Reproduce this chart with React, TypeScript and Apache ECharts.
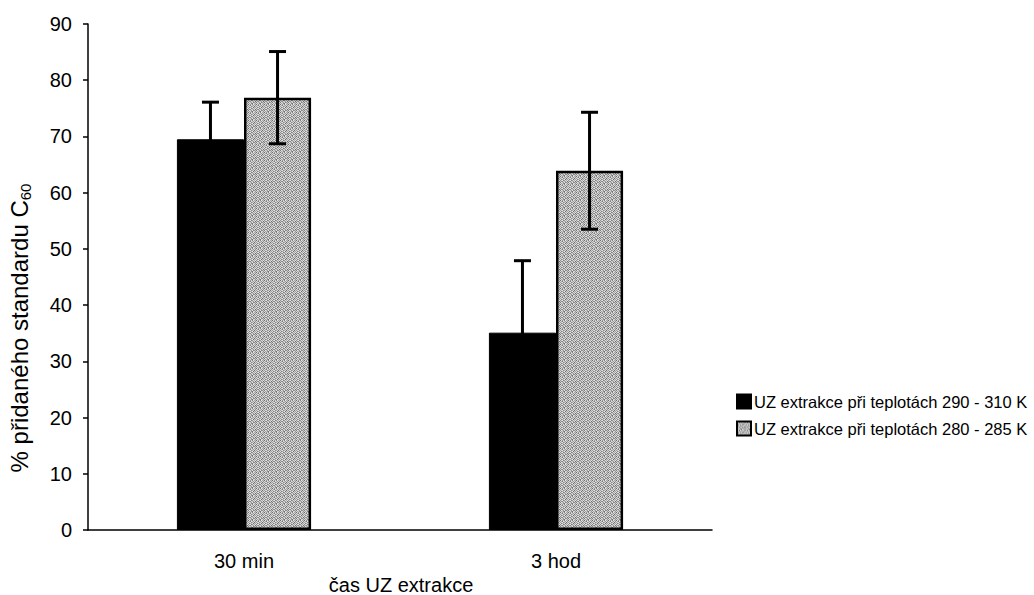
import React, { useEffect, useRef } from "react";
import * as echarts from "echarts";

// Extraction times on the category axis
const categories = ["30 min", "3 hod"];

// Recovered share of the added C60 standard (%) and its standard deviation
const warmValues = [69.5, 35.1];
const warmErrors = [6.6, 12.8];
const coolValues = [76.9, 63.9];
const coolErrors = [8.2, 10.4];

const seriesNames = [
  "UZ extrakce při teplotách 290 - 310 K",
  "UZ extrakce při teplotách 280 - 285 K",
];

const yTicks = { min: 0, max: 90, interval: 10 };

const FONT = "'Liberation Sans', Arial, Helvetica, sans-serif";
const BAR_FRACTION = 0.215;

// Fixed dithered grey tile used to fill the lighter bars
const DITHER = [
  [110, 225, 150, 205, 130, 230, 165, 195],
  [215, 170, 120, 225, 200, 150, 225, 135],
  [160, 205, 225, 140, 165, 210, 115, 210],
  [225, 125, 175, 195, 230, 110, 200, 160],
  [140, 210, 230, 120, 150, 215, 170, 225],
  [200, 155, 135, 215, 190, 160, 220, 105],
  [120, 225, 185, 160, 225, 130, 145, 200],
  [215, 165, 210, 140, 115, 220, 205, 150],
];

function makeDitherTile(): string {
  const n = DITHER.length;
  const c = document.createElement("canvas");
  c.width = n;
  c.height = n;
  const ctx = c.getContext("2d");
  if (!ctx) return "";
  const img = ctx.createImageData(n, n);
  for (let y = 0; y < n; y++) {
    for (let x = 0; x < n; x++) {
      const v = DITHER[y][x];
      const i = (y * n + x) * 4;
      img.data[i] = v;
      img.data[i + 1] = v;
      img.data[i + 2] = v;
      img.data[i + 3] = 255;
    }
  }
  ctx.putImageData(img, 0, 0);
  return c.toDataURL("image/png");
}

function errorBarSeries(values: number[], errors: number[], side: number) {
  return {
    type: "custom",
    z: 10,
    silent: true,
    data: values.map((v, i) => [i, v, errors[i]]),
    renderItem: (params: any, api: any) => {
      const cat = api.value(0);
      const v = api.value(1);
      const e = api.value(2);
      const band = api.size([1, 0])[0];
      const bw = band * BAR_FRACTION;
      const base = api.coord([cat, v]);
      const x = base[0] + (side * bw) / 2;
      const hi = api.coord([cat, v + e])[1];
      const lo = api.coord([cat, v - e])[1];
      const half = 8.5;
      const style = { stroke: "#000", lineWidth: 3, fill: "none" };
      return {
        type: "group",
        children: [
          { type: "line", shape: { x1: x, y1: hi, x2: x, y2: lo }, style },
          { type: "line", shape: { x1: x - half, y1: hi, x2: x + half, y2: hi }, style },
          { type: "line", shape: { x1: x - half, y1: lo, x2: x + half, y2: lo }, style },
        ],
      };
    },
  };
}

export default function App() {
  const ref = useRef<HTMLDivElement>(null);

  useEffect(() => {
    if (!ref.current) return;
    const chart = echarts.init(ref.current, undefined, { renderer: "svg" });
    const tile = makeDitherTile();
    const greyFill: any = tile ? { image: tile, repeat: "repeat" } : "#b8b8b8";

    chart.setOption({
      animation: false,
      backgroundColor: "#ffffff",
      textStyle: { fontFamily: FONT, color: "#000" },
      grid: { left: 88, top: 24, width: 624, height: 506, containLabel: false },
      legend: {
        orient: "vertical",
        left: 736,
        top: 393,
        padding: 0,
        itemWidth: 14,
        itemHeight: 14,
        itemGap: 10,
        icon: "rect",
        textStyle: { fontFamily: FONT, fontSize: 16.5, color: "#000", lineHeight: 17, padding: [0, 0, 0, -2] },
        data: seriesNames,
      },
      xAxis: {
        type: "category",
        data: categories,
        axisLine: { show: true, lineStyle: { color: "#000", width: 1.5 } },
        axisTick: { show: false },
        axisLabel: { fontFamily: FONT, fontSize: 20, color: "#000", margin: 21 },
        splitLine: { show: false },
      },
      yAxis: {
        type: "value",
        min: yTicks.min,
        max: yTicks.max,
        interval: yTicks.interval,
        axisLine: { show: true, lineStyle: { color: "#000", width: 1.5 } },
        axisTick: { show: true, length: 5, lineStyle: { color: "#000", width: 1.5 } },
        axisLabel: { fontFamily: FONT, fontSize: 20, color: "#000", margin: 16 },
        splitLine: { show: false },
      },
      series: [
        {
          name: seriesNames[0],
          type: "bar",
          data: warmValues,
          barWidth: `${BAR_FRACTION * 100}%`,
          barGap: "0%",
          itemStyle: { color: "#000", borderColor: "#000", borderWidth: 1 },
        },
        {
          name: seriesNames[1],
          type: "bar",
          data: coolValues,
          barWidth: `${BAR_FRACTION * 100}%`,
          barGap: "0%",
          itemStyle: { color: greyFill, borderColor: "#000", borderWidth: 2.5 },
        },
        errorBarSeries(warmValues, warmErrors, -1),
        errorBarSeries(coolValues, coolErrors, 1),
      ],
      graphic: [
        {
          type: "text",
          x: 19,
          y: 328,
          rotation: Math.PI / 2,
          style: {
            text: "{a|% přidaného standardu C}{b|60}",
            align: "center",
            verticalAlign: "middle",
            fill: "#000",
            rich: {
              a: { fontFamily: FONT, fontSize: 24, lineHeight: 28, fill: "#000", verticalAlign: "middle" },
              b: { fontFamily: FONT, fontSize: 15, lineHeight: 28, fill: "#000", verticalAlign: "bottom" },
            },
          },
        },
        {
          type: "text",
          x: 401,
          y: 585,
          style: {
            text: "čas UZ extrakce",
            align: "center",
            verticalAlign: "middle",
            fill: "#000",
            font: `20px ${FONT}`,
          },
        },
      ],
    });

    return () => chart.dispose();
  }, []);

  return (
    <div
      ref={ref}
      style={{ position: "fixed", left: 0, top: 0, width: 1034, height: 595 }}
    />
  );
}
